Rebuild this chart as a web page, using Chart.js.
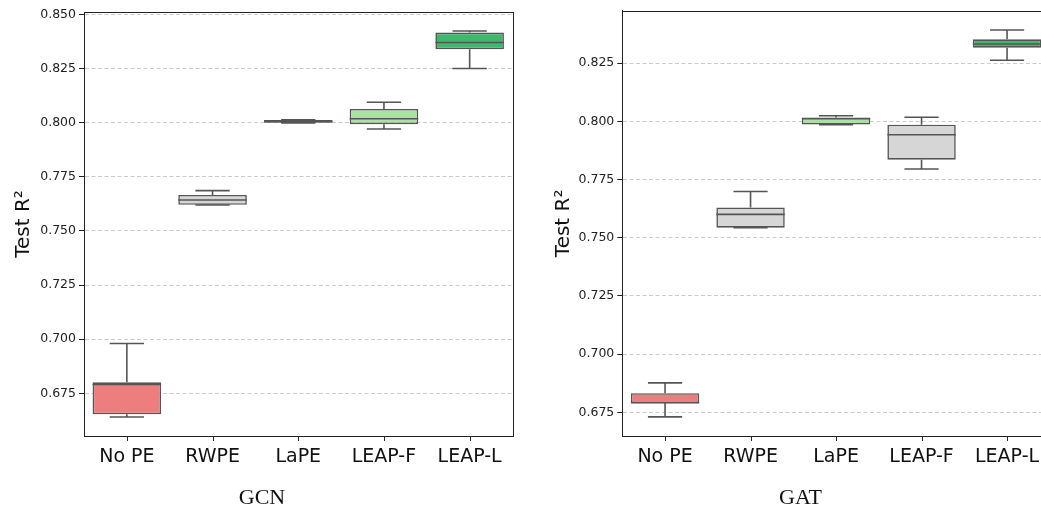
<!DOCTYPE html>
<html>
<head>
<meta charset="utf-8">
<script src="https://cdn.jsdelivr.net/npm/chart.js@4"></script>
<style>
  html, body { margin: 0; padding: 0; background: #fff; }
  body { width: 1041px; height: 510px; overflow: hidden; position: relative; }
  .panel { position: absolute; top: 0; height: 510px; }
  .cap { position: absolute; top: 484px; font: 22px "Liberation Serif", "Times New Roman", serif; color: #111; text-align: center; }
</style>
</head>
<body>
<div class="panel" style="left:0;width:530px;"><canvas id="gcn" width="530" height="510"></canvas></div>
<div class="panel" style="left:540px;width:530px;"><canvas id="gat" width="530" height="510"></canvas></div>
<div class="cap" style="left:0;width:524px;">GCN</div>
<div class="cap" style="left:560px;width:481px;">GAT</div>
<script>
const categories = ['No PE', 'RWPE', 'LaPE', 'LEAP-F', 'LEAP-L'];

// GCN box stats: whisker low, Q1, median, Q3, whisker high
const gcnLow  = [0.6641, 0.7620, 0.7999, 0.7971, 0.8250];
const gcnQ1   = [0.6653, 0.7621, 0.8000, 0.7993, 0.8339];
const gcnMed  = [0.6791, 0.7643, 0.8005, 0.8018, 0.8370];
const gcnQ3   = [0.6801, 0.7666, 0.8012, 0.8063, 0.8416];
const gcnHigh = [0.6980, 0.7686, 0.8013, 0.8094, 0.8423];
const gcnTicks = [0.675, 0.700, 0.725, 0.750, 0.775, 0.800, 0.825, 0.850];

// GAT box stats
const gatLow  = [0.6730, 0.7543, 0.7985, 0.7795, 0.8262];
const gatQ1   = [0.6789, 0.7543, 0.7986, 0.7835, 0.8316];
const gatMed  = [0.6791, 0.7600, 0.8011, 0.7942, 0.8332];
const gatQ3   = [0.6832, 0.7630, 0.8016, 0.7985, 0.8352];
const gatHigh = [0.6876, 0.7698, 0.8024, 0.8017, 0.8392];
const gatTicks = [0.675, 0.700, 0.725, 0.750, 0.775, 0.800, 0.825];

const RED = '#ee7e7e', GREY = '#d6d6d6', LGREEN = '#aedfa5', GREEN = '#3db86f';
const gcnColors = [RED, GREY, GREY, LGREEN, GREEN];
const gatColors = [RED, GREY, LGREEN, GREY, GREEN];

const EDGE = '#555555';
const AXIS = '#222';

// whiskers, caps and median lines, placed through the chart's own scales
const boxExtras = {
  id: 'boxExtras',
  afterDatasetsDraw(chart, args, opts) {
    const { ctx } = chart;
    const y = chart.scales.y;
    const meta = chart.getDatasetMeta(0);
    ctx.save();
    ctx.strokeStyle = EDGE;
    ctx.lineWidth = 1.6;
    meta.data.forEach((bar, i) => {
      const x = bar.x, w = bar.width;
      const yLow = y.getPixelForValue(opts.low[i]);
      const yQ1 = y.getPixelForValue(opts.q1[i]);
      const yMed = y.getPixelForValue(opts.med[i]);
      const yQ3 = y.getPixelForValue(opts.q3[i]);
      const yHigh = y.getPixelForValue(opts.high[i]);
      ctx.beginPath();
      ctx.moveTo(x, yQ3); ctx.lineTo(x, yHigh);
      ctx.moveTo(x - w / 4, yHigh); ctx.lineTo(x + w / 4, yHigh);
      ctx.moveTo(x, yQ1); ctx.lineTo(x, yLow);
      ctx.moveTo(x - w / 4, yLow); ctx.lineTo(x + w / 4, yLow);
      ctx.moveTo(x - w / 2, yMed); ctx.lineTo(x + w / 2, yMed);
      ctx.stroke();
    });
    ctx.restore();
  }
};

// matplotlib-like frame around the plot area, plus category tick marks
const frame = {
  id: 'frame',
  afterDraw(chart) {
    const { ctx, chartArea: a } = chart;
    const xs = chart.scales.x;
    ctx.save();
    ctx.strokeStyle = AXIS;
    ctx.lineWidth = 1;
    ctx.strokeRect(Math.round(a.left) + 0.5, Math.round(a.top) + 0.5,
      Math.round(a.right - a.left), Math.round(a.bottom - a.top));
    ctx.beginPath();
    xs.ticks.forEach((t, i) => {
      const px = Math.round(xs.getPixelForTick(i)) + 0.5;
      ctx.moveTo(px, a.bottom);
      ctx.lineTo(px, a.bottom + 5);
    });
    ctx.stroke();
    ctx.restore();
  }
};

function makeBox(id, low, q1, med, q3, high, colors, ticks, yMin, yMax, yWidth, pad) {
  return new Chart(document.getElementById(id), {
    type: 'bar',
    data: {
      labels: categories,
      datasets: [{
        data: q1.map((v, i) => [v, q3[i]]),
        backgroundColor: colors,
        borderColor: EDGE,
        borderWidth: 1.6,
        borderSkipped: false,
        barPercentage: 1,
        categoryPercentage: 0.8
      }]
    },
    options: {
      responsive: false,
      animation: false,
      layout: { padding: pad },
      plugins: {
        legend: { display: false },
        tooltip: { enabled: false },
        boxExtras: { low, q1, med, q3, high }
      },
      scales: {
        x: {
          grid: { display: false, tickLength: 5 },
          border: { display: true, color: AXIS },
          ticks: { color: '#111', padding: 5, font: { family: 'DejaVu Sans', size: 19 } },
          afterFit(s) { s.height = 74; }
        },
        y: {
          min: yMin,
          max: yMax,
          afterBuildTicks(s) { s.ticks = ticks.map(v => ({ value: v })); },
          grid: { color: '#cccccc', lineWidth: 1, tickLength: 5, tickColor: AXIS, tickBorderDash: [] },
          border: { display: true, color: AXIS, dash: [4, 2.5] },
          ticks: {
            color: '#222', padding: 3,
            font: { family: 'DejaVu Sans', size: 12.5 },
            callback: v => Number(v).toFixed(3)
          },
          title: {
            display: true, text: 'Test R²', color: '#111',
            font: { family: 'DejaVu Sans', size: 20 },
            padding: { top: 12, bottom: 0 }
          },
          afterFit(s) { s.width = yWidth; }
        }
      }
    },
    plugins: [boxExtras, frame]
  });
}

makeBox('gcn', gcnLow, gcnQ1, gcnMed, gcnQ3, gcnHigh, gcnColors, gcnTicks,
  0.6553, 0.8511, 84, { top: 12, right: 17.5, bottom: 0, left: 0 });
makeBox('gat', gatLow, gatQ1, gatMed, gatQ3, gatHigh, gatColors, gatTicks,
  0.6648, 0.8475, 82.3, { top: 10.7, right: 20.2, bottom: 0, left: 0 });
</script>
</body>
</html>
